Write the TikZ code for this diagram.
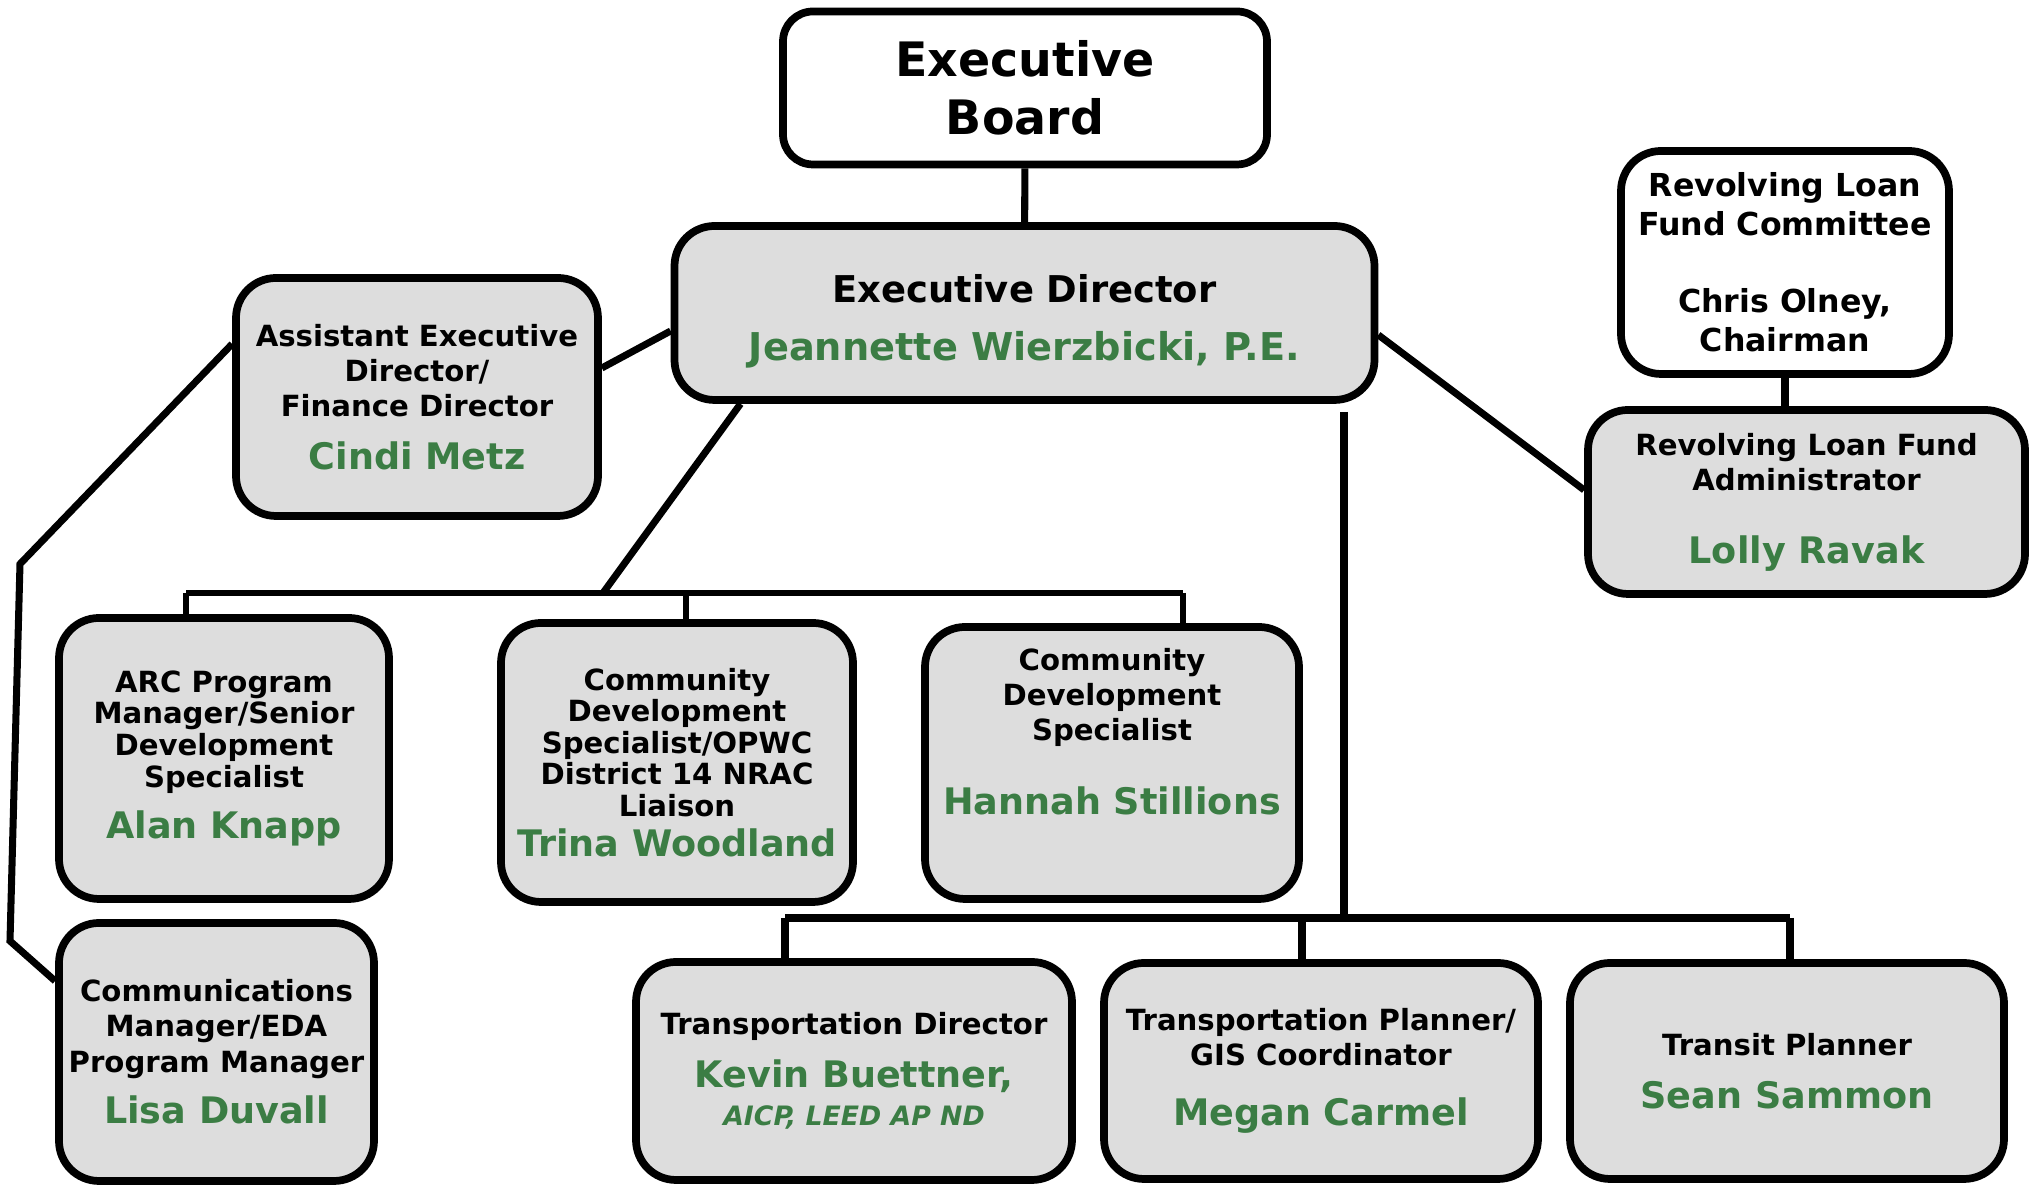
\documentclass[tikz,border=0pt]{standalone}
\usepackage{fontspec}
\setmainfont{DejaVu Sans}
\usepackage{xcolor}

\definecolor{namegreen}{RGB}{59,125,68}
\definecolor{boxgray}{RGB}{221,221,221}
\newcommand{\who}[1]{{\color{namegreen}\fontsize{10.4}{13}\selectfont #1}}

\begin{document}
\begin{tikzpicture}[
  box/.style={draw, line width=2.2pt, rounded corners=0.4cm, fill=boxgray, align=center,
    inner sep=2pt, font=\bfseries\fontsize{8.3}{10}\selectfont},
  openbox/.style={box, fill=white},
  link/.style={line width=2pt},
  bus/.style={line width=1.6pt}]
\useasboundingbox (0,0) rectangle (20.34,11.87);

% top
\node[openbox, rounded corners=0.3cm, minimum width=4.84cm, minimum height=1.53cm,
  font=\bfseries\fontsize{13.5}{16.5}\selectfont] (board) at (10.25,10.99) {Executive\\Board};
\node[box, minimum width=7.0cm, minimum height=1.74cm,
  font=\bfseries\fontsize{10.5}{16.5}\selectfont] (ed) at (10.245,8.74)
  {\rule{0pt}{13pt}Executive Director\\{\color{namegreen}\fontsize{10.9}{13}\selectfont Jeannette Wierzbicki, P.E.}};
\node[box, minimum width=3.62cm, minimum height=2.38cm] (asst) at (4.17,7.90)
  {Assistant Executive\\Director/\\Finance Director\\[5pt]\who{Cindi Metz}};
\node[openbox, minimum width=3.28cm, minimum height=2.23cm,
  font=\bfseries\fontsize{9}{11}\selectfont] (rlfc) at (17.85,9.245)
  {Revolving Loan\\Fund Committee\\[11pt]Chris Olney,\\Chairman};
\node[box, minimum width=4.37cm, minimum height=1.84cm] (rlfa) at (18.065,6.85)
  {Revolving Loan Fund\\Administrator\\[10.7pt]\who{Lolly Ravak}};

% middle row
\node[box, minimum width=3.30cm, minimum height=2.81cm,
  font=\bfseries\fontsize{8.3}{9}\selectfont] (arc) at (2.24,4.285)
  {ARC Program\\Manager/Senior\\Development\\Specialist\\[4pt]\who{Alan Knapp}};
\node[box, minimum width=3.52cm, minimum height=2.79cm,
  font=\bfseries\fontsize{8.3}{9}\selectfont] (trina) at (6.77,4.245)
  {Community\\Development\\Specialist/OPWC\\District 14 NRAC\\Liaison\\[2.4pt]\who{Trina Woodland}};
\node[box, minimum width=3.74cm, minimum height=2.72cm] (hannah) at (11.12,4.24)
  {Community\\Development\\Specialist\\[11pt]\who{Hannah Stillions}\rule[-18pt]{0pt}{18pt}};

% bottom row
\node[box, minimum width=3.15cm, minimum height=2.58cm] (lisa) at (2.165,1.35)
  {Communications\\Manager/EDA\\Program Manager\\[4.7pt]\who{Lisa Duvall}};
\node[box, minimum width=4.36cm, minimum height=2.18cm] (kevin) at (8.54,1.16)
  {Transportation Director\\[5pt]\who{Kevin Buettner,}\\[1pt]
  {\color{namegreen}\itshape\fontsize{7.6}{9}\selectfont AICP, LEED AP ND}};
\node[box, minimum width=4.34cm, minimum height=2.16cm] (megan) at (13.21,1.16)
  {Transportation Planner/\\GIS Coordinator\\[7pt]\who{Megan Carmel}};
\node[box, minimum width=4.34cm, minimum height=2.16cm] (sean) at (17.87,1.16)
  {Transit Planner\\[5pt]\who{Sean Sammon}};

% bends and buses
\coordinate (bendA) at (0.2,6.23);
\coordinate (bendB) at (0.1,2.46);
\coordinate (midL) at (1.86,5.94);
\coordinate (midJ) at (6.03,5.94);
\coordinate (midT) at (6.86,5.94);
\coordinate (midR) at (11.83,5.94);
\coordinate (tr) at (13.44,7.75);
\coordinate (lowL) at (7.85,2.69);
\coordinate (lowJ) at (13.44,2.69);
\coordinate (lowM) at (13.02,2.69);
\coordinate (lowR) at (17.90,2.69);

\draw[link] (board) -- (ed);
\draw[link] ([yshift=-0.18cm]ed.west) -- ([yshift=0.29cm]asst.east);
\draw[link] ([yshift=-0.22cm]ed.east) -- ([yshift=0.12cm]rlfa.west);
\draw[link] (rlfc) -- (rlfc.south |- rlfa.north);
\draw[link] ([yshift=0.53cm]asst.west) -- (bendA) -- (bendB) -- ([yshift=0.71cm]lisa.west);

\draw[link] ([xshift=-2.84cm]ed.south) -- (midJ);
\draw[bus] (midL) -- (midR);
\draw[bus] (midL) -- (midL |- arc.north);
\draw[bus] (midT) -- (midT |- trina.north);
\draw[bus] (midR) -- (midR |- hannah.north);

\draw[link] (tr) -- (lowJ);
\draw[link, line width=2.4pt] (lowL) -- (lowR);
\draw[link] (lowL) -- (lowL |- kevin.north);
\draw[link] (lowM) -- (lowM |- megan.north);
\draw[link] (lowR) -- (lowR |- sean.north);
\end{tikzpicture}
\end{document}
